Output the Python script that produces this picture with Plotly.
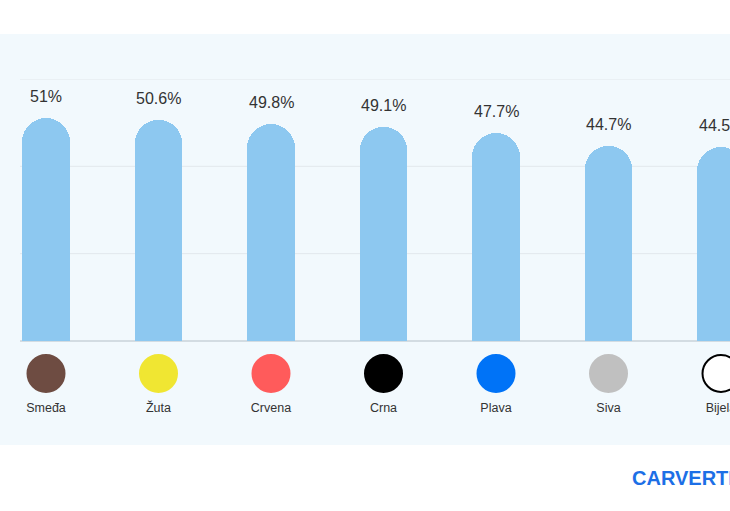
import plotly.graph_objects as go

colors_names = ["Smeđa", "Žuta", "Crvena", "Crna", "Plava", "Siva", "Bijela"]
values = [51.0, 50.6, 49.8, 49.1, 47.7, 44.7, 44.5]
value_labels = ["51%", "50.6%", "49.8%", "49.1%", "47.7%", "44.7%", "44.5%"]
swatches = ["#6E4C42", "#F0E632", "#FF5B5B", "#000000", "#0073F7", "#C0C0C0", "#FFFFFF"]
swatch_lines = ["#6E4C42", "#F0E632", "#FF5B5B", "#000000", "#0073F7", "#C0C0C0", "#000000"]
grid_values = [20, 40, 60]

W, H = 730, 511
xs = list(range(len(colors_names)))
FONT = "Liberation Sans, Arial, sans-serif"

def yfrac(px):
    return (H - px) / H

fig = go.Figure()

fig.add_shape(type="rect", xref="paper", yref="paper", x0=-0.05, x1=1.05,
              y0=yfrac(445), y1=yfrac(34), fillcolor="#F2F9FD", line=dict(width=0),
              layer="below")

for g in grid_values:
    fig.add_shape(type="line", xref="paper", yref="y", x0=0, x1=1, y0=g, y1=g,
                  line=dict(color="#E2E8EC", width=1), layer="below")

fig.add_trace(go.Bar(
    x=xs, y=values, width=0.42,
    marker=dict(color="#8DC8F0", cornerradius="50%", line=dict(width=0)),
    hoverinfo="skip", showlegend=False,
))

fig.add_trace(go.Scatter(
    x=xs, y=[0.7] * len(xs), mode="markers", xaxis="x", yaxis="y2",
    marker=dict(size=37, color=swatches, line=dict(color=swatch_lines, width=2)),
    hoverinfo="skip", showlegend=False, cliponaxis=False,
))

fig.add_trace(go.Scatter(
    x=xs, y=[0.33] * len(xs), mode="text", xaxis="x", yaxis="y2",
    text=colors_names, textfont=dict(family=FONT, size=12.5, color="#333333"),
    hoverinfo="skip", showlegend=False, cliponaxis=False,
))

for xi, v, lab in zip(xs, values, value_labels):
    fig.add_annotation(x=xi, y=v, text=lab, showarrow=False, yanchor="bottom",
                       yshift=11, font=dict(family=FONT, size=16, color="#333333"))

fig.add_annotation(xref="paper", yref="paper", x=(630 - 20) / (W - 20), y=yfrac(478),
                   xanchor="left", yanchor="middle", showarrow=False,
                   text="<b>CARVERTICAL</b>",
                   font=dict(family=FONT, size=20, color="#1D6FE6"))

fig.update_layout(
    width=W, height=H,
    margin=dict(l=20, r=0, t=0, b=0),
    paper_bgcolor="white", plot_bgcolor="rgba(0,0,0,0)",
    xaxis=dict(range=[(20 - 46) / 112.5, (730 - 46) / 112.5], showgrid=False,
               showticklabels=False, zeroline=False, ticks="", fixedrange=True),
    yaxis=dict(domain=[yfrac(341), yfrac(79)], range=[0, 60], showgrid=False,
               zeroline=True, zerolinecolor="#D3DCE2", zerolinewidth=1.5,
               showticklabels=False, ticks=""),
    yaxis2=dict(domain=[yfrac(440), yfrac(345)], range=[0, 1], showgrid=False,
                zeroline=False, showticklabels=False, ticks=""),
    bargap=0,
)

fig.write_html("out.html")
